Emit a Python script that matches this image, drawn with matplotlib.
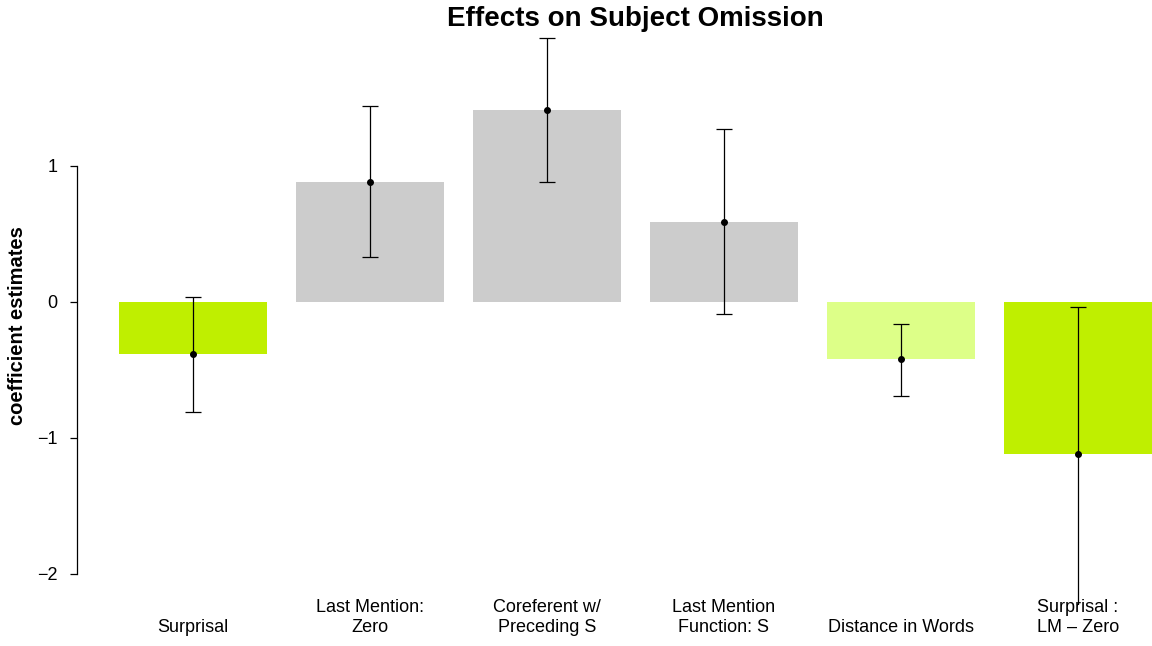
import matplotlib.pyplot as plt
import matplotlib.transforms as mtransforms
import numpy as np

plt.rcParams['font.family'] = ['Liberation Sans', 'DejaVu Sans']

# coefficient estimates with their intervals
labels = ['Surprisal', 'Last Mention:\nZero', 'Coreferent w/\nPreceding S',
          'Last Mention\nFunction: S', 'Distance in Words', 'Surprisal :\nLM \u2013 Zero']
estimates = [-0.38, 0.88, 1.41, 0.59, -0.42, -1.12]
lower = [-0.81, 0.33, 0.88, -0.09, -0.69, -2.30]
upper = [0.04, 1.44, 1.94, 1.27, -0.16, -0.04]
colors = ['#BFEF00', '#CCCCCC', '#CCCCCC', '#CCCCCC', '#DDFF88', '#BFEF00']

fig = plt.figure(figsize=(11.52, 6.46), dpi=100)
ax = fig.add_axes([77 / 1152, 41 / 646, 1075 / 1152, 571 / 646])

x = 0.7 + 1.2 * np.arange(len(estimates))
ax.bar(x, estimates, width=1.0, color=colors, edgecolor='none')
est = np.array(estimates)
yerr = [est - np.array(lower), np.array(upper) - est]
ax.errorbar(x, est, yerr=yerr, fmt='o', color='black', markersize=4,
            elinewidth=0.9, capsize=6, capthick=0.9)

ax.set_xlim(-0.085, 7.203)
ax.set_ylim(-2.228, 1.97)

for s in ['top', 'right', 'bottom']:
    ax.spines[s].set_visible(False)
ax.spines['left'].set_bounds(-2, 1)
ax.spines['left'].set_linewidth(0.9)
ax.set_xticks([])
ax.set_yticks([-2, -1, 0, 1])
ax.set_yticklabels(['\u22122', '\u22121', '0', '1'])
ax.tick_params(axis='y', length=5, width=0.9, labelsize=13, pad=9)

# category labels sit under the plot, bottom lines aligned
trans = mtransforms.blended_transform_factory(ax.transData, fig.transFigure)
for xi, lab in zip(x, labels):
    ax.text(xi, 10 / 646, lab, transform=trans, ha='center', va='bottom',
            fontsize=13, linespacing=1.2)

fig.text(18 / 1152, 320 / 646, 'coefficient estimates', rotation=90,
         ha='center', va='center', fontsize=14.5, fontweight='bold')
fig.text(635 / 1152, 1 - 19 / 646, 'Effects on Subject Omission',
         ha='center', va='center', fontsize=20, fontweight='bold')

fig.savefig('out.png', dpi=100)
